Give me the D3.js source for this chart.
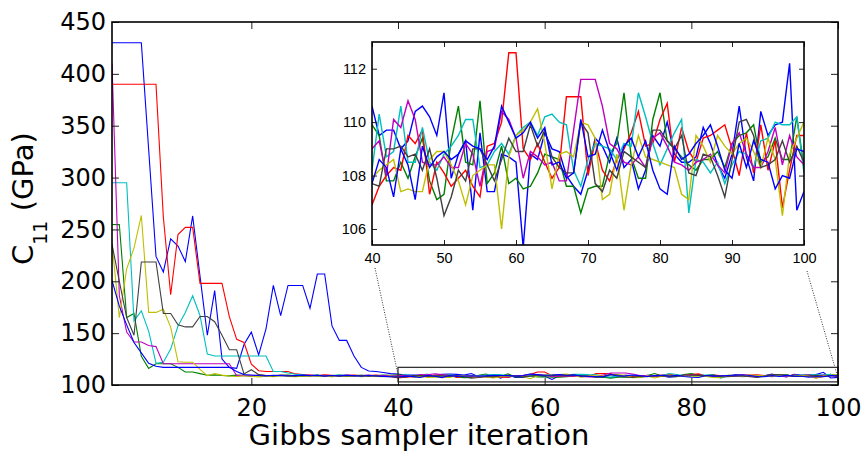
<!DOCTYPE html>
<html>
<head>
<meta charset="utf-8">
<script src="https://cdn.jsdelivr.net/npm/d3@7"></script>
<style>
  body { margin: 0; background: #fff; }
  svg { display: block; }
  .main-axis text { font-family: "DejaVu Sans"; font-size: 24px; fill: #000; }
  .inset-axis text { font-family: "Liberation Sans"; font-size: 14.5px; fill: #000; }
  .main-axis line, .inset-axis line { stroke: #222; }
</style>
</head>
<body>
<script>
/* DATA */
// Gibbs sampler iterations 1..100
var iterations = d3.range(1, 101);

// C11 samples (GPa), one array per chain
var blue1 = [430,430,430,430,430,327,224,209,241,234, 219,263,205,148,191,125,117,116,139,151,
  129,154,196,167,196,196,196,174,207,207, 157,143,143,128,117,113.5,113,112,111,
  110.6,109.5,109.7,109.7,109.0,109.3,110.4,110.6,110.2,109.5, 111.1,107.9,108.8,109.3,106.7,109.6,107.4,107.4,108.8,108.7,
  108.5,105.3,108.8,108.6,109.6,109.0,108.9,108.0,107.6,107.3, 108.2,109.4,109.1,108.5,109.4,108.3,108.6,107.5,108.2,109.5,
  109.1,110.0,108.8,108.5,108.5,108.7,109.8,109.2,108.4,107.9, 108.8,110.6,108.7,107.8,110.4,109.5,109.9,110.0,112.2,106.7, 107.4];
var green1 = [254.8,254.6,165,169,127.7,116,120.5,120.5,120.5,117, 112.5,112.5,111,109.4,109.8,109.2,108.8,109.5,109.1,108.6,
  109.3,109.0,108.4,109.2,109.6,108.9,108.5,109.1,109.4,108.7, 108.9,109.5,108.3,109.0,109.3,108.6,109.1,109.7,109.4,
  109.9,109.5,107.8,107.8,108.5,107.9,108.7,109.4,107.8,107.1, 107.3,109.3,110.6,108.5,108.4,110.8,107.7,108.1,109.1,107.7,
  107.9,107.5,107.6,108.1,108.8,108.7,108.6,107.6,107.6,106.6, 107.5,107.6,107.6,108.8,109.2,111.1,108.7,107.9,107.9,110.1,
  111.1,109.3,109.0,108.7,108.4,108.2,108.6,108.6,108.9,108.3, 109.2,109.5,109.6,109.9,108.5,108.7,109.4,108.6,108.6,110.2, 108.3];
var red1 = [390,390,390,390,390,390,390,262,187,245, 252,252,198,198,198,198,166,144,141,120,
  113.8,113,113,113,113,110.7,110,109.5,109.2,109.8, 109.4,108.9,109.3,109.6,108.8,109.1,109.5,108.6,108.2,
  106.9,107.6,108.0,108.3,108.2,109.5,109.2,109.7,107.3,108.5, 108.1,107.6,107.9,108.2,107.6,107.2,109.1,109.2,110.0,112.6,
  112.6,109.0,108.6,109.2,108.5,107.9,108.3,110.95,110.95,110.95, 108.0,109.3,108.2,107.8,108.6,109.0,109.6,110.4,109.1,109.2,
  110.1,110.7,108.5,109.8,108.9,108.5,109.4,109.5,109.7,109.9, 109.0,108.0,109.6,108.1,109.9,108.2,109.3,106.8,108.2,109.5, 109.5];
var cyan1 = [295,295,295,161.8,171.5,152,121,122,134.6,157, 170,186,167,129.8,128,128,128,128,128,128,
  128,128,113,113,111.5,110.3,109.8,109.2,109.5,108.9, 109.1,109.7,109.3,108.8,109.0,109.4,108.7,109.1,108.9,
  108.2,110.3,108.7,108.9,110.6,108.5,108.5,109.8,108.5,108.2, 108.8,109.1,109.5,110.1,110.1,108.3,108.4,108.9,109.2,108.8,
  109.5,109.8,110.0,109.5,110.2,110.3,110.0,109.9,108.2,107.6, 108.6,109.2,109.1,109.0,108.6,109.2,109.1,111.1,110.2,109.2,
  108.4,109.0,109.6,110.1,106.6,108.6,108.5,108.1,108.5,107.7, 108.4,108.9,108.8,108.3,109.3,109.4,110.0,109.9,109.9,110.2, 108.1];
var magenta1 = [410,186,151,141.5,141.5,138,137,120.5,120.5,120.5, 120.5,120.5,120.5,120.5,120.5,120.5,120.5,109,109.3,108.8,
  109.6,109.1,108.7,109.4,109.0,108.5,109.2,109.7,108.9,109.3, 108.6,109.0,109.5,108.8,109.1,109.6,108.7,109.2,108.9,
  109.0,109.3,108.0,110.1,109.8,110.8,110.1,108.5,108.4,108.4, 108.7,108.3,108.3,109.2,108.8,107.6,108.9,109.0,110.4,110.1,
  109.4,107.9,108.9,108.7,108.4,108.5,107.8,107.8,109.7,111.6, 111.6,111.6,110.6,109.2,109.0,108.5,108.4,108.7,108.3,109.4,
  109.6,109.1,108.5,108.4,108.2,108.5,108.6,108.8,108.4,108.1, 109.2,109.6,108.8,108.3,108.3,108.9,109.8,108.4,109.5,108.7, 108.4];
var yellow1 = [237,165,212,232,263.5,170,170,173,155.8,122.4, 122,122,115,109,111,109.5,108.7,108.2,108.9,108.4,
  107.8,108.6,108.1,108.9,108.3,107.9,108.5,108.8,108.2,108.6, 108.0,108.7,108.4,108.9,108.1,108.5,108.3,108.0,108.6,
  107.9,108.2,108.4,108.6,107.4,107.5,107.4,107.4,108.6,108.9, 108.9,108.4,107.8,106.9,108.0,108.2,108.4,108.4,106.0,108.7,
  109.5,109.7,110.0,110.5,109.2,107.5,108.8,108.9,108.7,110.0, 109.9,109.4,107.1,107.3,108.8,106.7,108.4,109.5,108.7,108.6,
  108.5,108.4,108.3,107.3,107.1,109.5,109.1,108.5,109.5,109.1, 108.8,109.2,109.4,108.9,108.3,109.4,108.6,106.5,108.8,109.4, 110.0];
var black1 = [235.6,200,165,148,218.6,218.6,218.6,169,169,158, 156,156,166,166,161,148,134,134,110.6,114.7,
  110,109.2,108.8,109.5,109.0,108.6,109.3,108.9,109.4,108.7, 109.1,108.5,109.0,108.8,109.3,108.6,108.9,108.2,107.9,
  107.7,107.6,109.0,109.0,109.1,108.7,108.8,108.2,109.0,107.9, 106.5,107.2,108.2,107.8,109.0,109.0,108.4,107.8,108.6,109.4,
  108.9,108.9,109.9,109.1,109.7,108.7,108.3,108.1,108.1,110.0, 109.6,107.7,107.4,108.2,107.9,108.9,108.7,108.5,108.3,109.7,
  109.7,109.3,109.0,109.5,108.1,108.0,108.8,108.7,108.0,107.2, 108.6,110.0,110.1,109.5,108.3,108.4,108.6,109.3,108.5,109.1, 108.5];
var blue2 = [200.8,176,158,141,131,121,118,117,117,117, 117,117,117,117,117,117,117,113,110,109.6,
  109.1,108.8,109.4,109.0,108.7,109.2,109.5,108.9,109.3,108.6, 109.1,108.8,109.4,109.0,108.5,109.2,108.7,108.3,108.0,
  107.7,108.6,108.3,107.2,109.0,108.4,107.1,109.1,108.3,108.7, 108.9,108.6,108.8,109.3,109.1,109.0,108.6,109.1,110.6,110.0,
  109.4,109.6,110.0,109.4,109.8,108.4,108.5,107.9,108.1,110.1, 108.7,108.8,109.7,108.9,108.2,109.1,109.4,108.7,109.3,108.2,
  107.5,107.3,109.1,108.6,108.8,109.2,109.5,109.9,109.1,108.2, 107.9,109.2,108.3,109.3,108.6,108.5,107.5,108.0,107.9,109.0, 108.9];

var chains = [blue1, green1, red1, cyan1, magenta1, yellow1, black1, blue2];
var chainColors = ["#0000ff", "#008000", "#ff0000", "#00bfbf", "#bf00bf", "#bfbf00", "#404040", "#0000ff"];

// tick labels
var mainXTicks = [20, 40, 60, 80, 100];
var mainYTicks = [100, 150, 200, 250, 300, 350, 400, 450];
var insetXTicks = [40, 50, 60, 70, 80, 90, 100];
var insetYTicks = [106, 108, 110, 112];
var zoomBox = {x: [40, 100], y: [103, 117]};

/* CONSTANTS AND GLOBALS */
var width = 868, height = 452;
var main = {left: 112, right: 838, top: 22, bottom: 385};
var inset = {left: 372, right: 804, top: 42, bottom: 245};

// set the ranges
var x = d3.scaleLinear().domain([1, 100]).range([main.left, main.right]);
var y = d3.scaleLinear().domain([100, 450]).range([main.bottom, main.top]);
var xi = d3.scaleLinear().domain([40, 100]).range([inset.left, inset.right]);
var yi = d3.scaleLinear().domain([105.4, 113]).range([inset.bottom, inset.top]);

var mainLine = d3.line()
  .x(function(d) { return x(d.it); })
  .y(function(d) { return y(d.v); });
var insetLine = d3.line()
  .x(function(d) { return xi(d.it); })
  .y(function(d) { return yi(d.v); });

function toPoints(values) {
  return iterations.map(function(it, i) { return {it: it, v: values[i]}; });
}

/* DRAW */
var svg = d3.select("body").append("svg")
  .attr("width", width)
  .attr("height", height);

svg.append("rect").attr("width", width).attr("height", height).attr("fill", "#fff");

svg.append("clipPath").attr("id", "clip-main")
  .append("rect")
  .attr("x", main.left).attr("y", main.top)
  .attr("width", main.right - main.left).attr("height", main.bottom - main.top);
svg.append("clipPath").attr("id", "clip-inset")
  .append("rect")
  .attr("x", inset.left).attr("y", inset.top)
  .attr("width", inset.right - inset.left).attr("height", inset.bottom - inset.top);

// main traces
var mainG = svg.append("g").attr("clip-path", "url(#clip-main)");
chains.forEach(function(c, i) {
  mainG.append("path")
    .datum(toPoints(c))
    .attr("d", mainLine)
    .attr("fill", "none")
    .attr("stroke", chainColors[i])
    .attr("stroke-width", 1.1);
});

// zoom rectangle
svg.append("rect")
  .attr("x", x(zoomBox.x[0])).attr("y", y(zoomBox.y[1]))
  .attr("width", x(zoomBox.x[1]) - x(zoomBox.x[0]))
  .attr("height", y(zoomBox.y[0]) - y(zoomBox.y[1]))
  .attr("fill", "none").attr("stroke", "#333").attr("stroke-width", 1.3);

// main axes
svg.append("g").attr("class", "main-axis")
  .attr("transform", "translate(0," + main.bottom + ")")
  .call(d3.axisBottom(x).tickValues(mainXTicks).tickSize(-7).tickPadding(14))
  .call(function(g) { g.select(".domain").remove(); });
svg.append("g").attr("class", "main-axis")
  .attr("transform", "translate(0," + main.top + ")")
  .call(d3.axisTop(x).tickValues(mainXTicks).tickSize(-7).tickFormat(""))
  .call(function(g) { g.select(".domain").remove(); });
svg.append("g").attr("class", "main-axis")
  .attr("transform", "translate(" + main.left + ",0)")
  .call(d3.axisLeft(y).tickValues(mainYTicks).tickSize(-7).tickPadding(6))
  .call(function(g) { g.select(".domain").remove(); });
svg.append("g").attr("class", "main-axis")
  .attr("transform", "translate(" + main.right + ",0)")
  .call(d3.axisRight(y).tickValues(mainYTicks).tickSize(-7).tickFormat(""))
  .call(function(g) { g.select(".domain").remove(); });

svg.append("rect")
  .attr("x", main.left).attr("y", main.top)
  .attr("width", main.right - main.left).attr("height", main.bottom - main.top)
  .attr("fill", "none").attr("stroke", "#000").attr("stroke-width", 1.6);

// connector lines (dotted)
svg.append("line")
  .attr("x1", xi(40) + 3).attr("y1", inset.bottom + 23)
  .attr("x2", x(zoomBox.x[0])).attr("y2", y(110))
  .attr("stroke", "#333").attr("stroke-dasharray", "1,1.5");
svg.append("line")
  .attr("x1", xi(100) + 3).attr("y1", inset.bottom + 26)
  .attr("x2", x(zoomBox.x[1]) - 1).attr("y2", y(110))
  .attr("stroke", "#333").attr("stroke-dasharray", "1,1.5");

// inset
svg.append("rect")
  .attr("x", inset.left).attr("y", inset.top)
  .attr("width", inset.right - inset.left).attr("height", inset.bottom - inset.top)
  .attr("fill", "#fff");

var insetG = svg.append("g").attr("clip-path", "url(#clip-inset)");
chains.forEach(function(c, i) {
  insetG.append("path")
    .datum(toPoints(c).filter(function(d) { return d.it >= 40; }))
    .attr("d", insetLine)
    .attr("fill", "none")
    .attr("stroke", chainColors[i])
    .attr("stroke-width", 1.4);
});

svg.append("g").attr("class", "inset-axis")
  .attr("transform", "translate(0," + inset.bottom + ")")
  .call(d3.axisBottom(xi).tickValues(insetXTicks).tickSize(-5).tickPadding(8))
  .call(function(g) { g.select(".domain").remove(); });
svg.append("g").attr("class", "inset-axis")
  .attr("transform", "translate(0," + inset.top + ")")
  .call(d3.axisTop(xi).tickValues(insetXTicks).tickSize(-5).tickFormat(""))
  .call(function(g) { g.select(".domain").remove(); });
svg.append("g").attr("class", "inset-axis")
  .attr("transform", "translate(" + inset.left + ",0)")
  .call(d3.axisLeft(yi).tickValues(insetYTicks).tickSize(-5).tickPadding(6))
  .call(function(g) { g.select(".domain").remove(); });
svg.append("g").attr("class", "inset-axis")
  .attr("transform", "translate(" + inset.right + ",0)")
  .call(d3.axisRight(yi).tickValues(insetYTicks).tickSize(-5).tickFormat(""))
  .call(function(g) { g.select(".domain").remove(); });

svg.append("rect")
  .attr("x", inset.left).attr("y", inset.top)
  .attr("width", inset.right - inset.left).attr("height", inset.bottom - inset.top)
  .attr("fill", "none").attr("stroke", "#000").attr("stroke-width", 1.6);

// text label for the y axis
var ylab = svg.append("text")
  .attr("transform", "translate(33,265) rotate(-90)")
  .style("font-family", "DejaVu Sans")
  .style("font-size", "29px");
ylab.append("tspan").text("C");
ylab.append("tspan").attr("dy", 14).style("font-size", "19px").text("11");
ylab.append("tspan").attr("dy", -14).text(" (GPa)");

// text label for the x axis
svg.append("text")
  .attr("x", 419)
  .attr("y", 445)
  .style("text-anchor", "middle")
  .style("font-family", "DejaVu Sans")
  .style("font-size", "29px")
  .text("Gibbs sampler iteration");
</script>
</body>
</html>
